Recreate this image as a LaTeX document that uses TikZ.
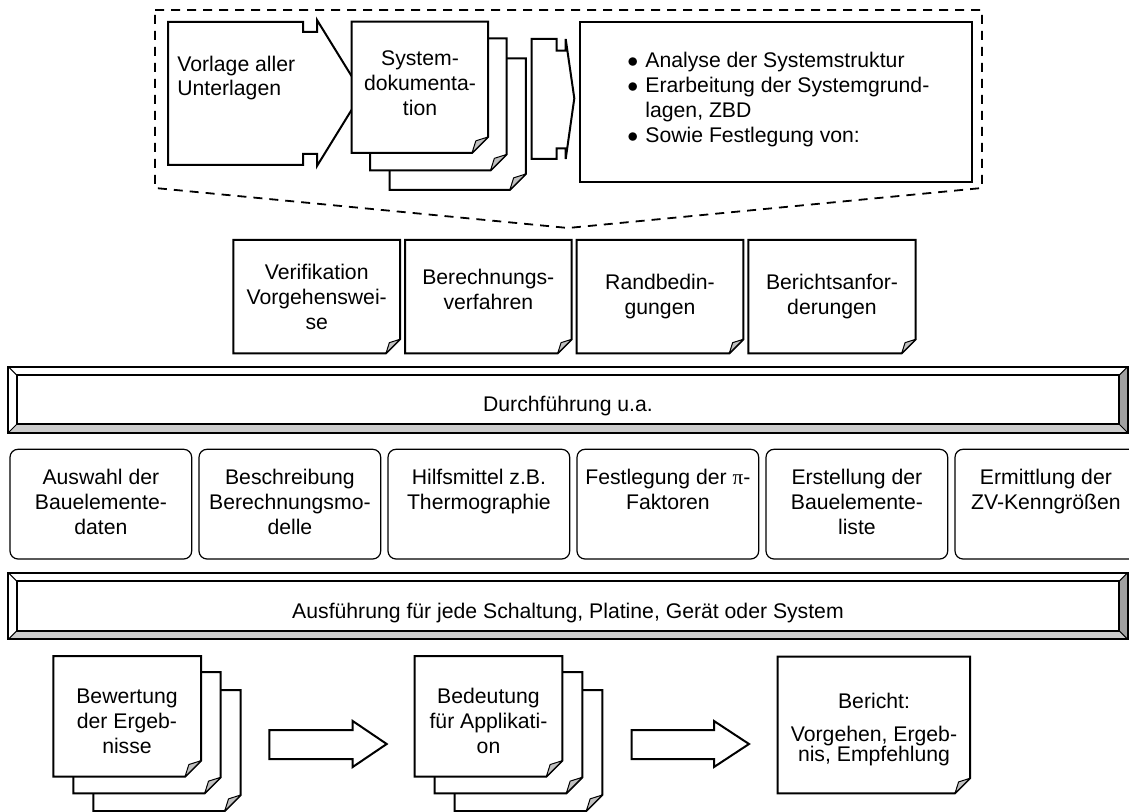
\documentclass[tikz,border=0pt]{standalone}
\usepackage{fontspec}
\setmainfont{Liberation Sans}
\newfontfamily\symbolserif{Liberation Serif}
\definecolor{earGray}{HTML}{C0C0C0}
\definecolor{bevelLight}{HTML}{CCCCCC}
\definecolor{bevelDark}{HTML}{A0A0A0}

% sheet of paper with a folded bottom-right corner: x1 y1 x2 y2 ear
\newcommand\docpage[5]{%
  \filldraw[outl, fill=white] (#1,#2) -- (#3,#2) -- (#3,#4-#5) -- (#3-#5,#4) -- (#1,#4) -- cycle;
  \filldraw[foldline] (#3-#5,#4) -- (#3,#4-#5) -- ({#3-0.76*#5},{#4-0.76*#5}) -- cycle;
}
% raised bar with bevelled frame: x1 y1 x2 y2 bevel
\newcommand\bevelbar[5]{%
  \fill[white] (#1,#2) rectangle (#3,#4);
  \fill[bevelLight] (#1,#4) -- (#3,#4) -- (#3-#5,#4-#5) -- (#1+#5,#4-#5) -- cycle;
  \fill[bevelDark] (#3,#2) -- (#3,#4) -- (#3-#5,#4-#5) -- (#3-#5,#2+#5) -- cycle;
  \draw[outl] (#1,#2) rectangle (#3,#4);
  \draw[outl] (#1+#5,#2+#5) rectangle (#3-#5,#4-#5);
  \draw[hairline] (#1,#2) -- (#1+#5,#2+#5) (#3,#2) -- (#3-#5,#2+#5)
                  (#1,#4) -- (#1+#5,#4-#5) (#3,#4) -- (#3-#5,#4-#5);
}
\newcommand\itembullet{\makebox[9pt][l]{$\bullet$}}

\begin{document}
\begin{tikzpicture}[x=0.5pt,y=-0.5pt,
  txt/.style={font=\fontsize{10.6}{12.5}\selectfont, align=center, inner sep=0pt},
  outl/.style={draw=black, line width=1pt, line join=miter},
  hairline/.style={draw=black, line width=0.5pt},
  foldline/.style={draw=black, line width=0.5pt, fill=earGray, line join=round},
  softbox/.style={draw=black, line width=0.6pt, rounded corners=4pt, fill=white},
  dashedoutline/.style={draw=black, line width=0.9pt, dash pattern=on 4.5pt off 3.5pt},
  bigarrow/.style={outl, fill=white},
]
\useasboundingbox (0,0) rectangle (1129,812);

% ---------- preparation group ----------
\draw[dashedoutline] (155,10) -- (982,10) -- (982,188) -- (568,228) -- (155,188) -- cycle;

% notched arrow holding the submitted documents
\draw[bigarrow] (168,22) -- (303,22) -- (303,32) -- (317,32) -- (317,20) -- (362,93)
  -- (317,166) -- (317,154) -- (303,154) -- (303,165) -- (168,165) -- cycle;
\node[txt, align=left, anchor=west, font=\fontsize{10.6}{11.7}\selectfont] (vorlage) at (177,78) {Vorlage aller\\Unterlagen};

% stack of system documents
\docpage{389.5}{58.5}{525.8}{190}{16}
\docpage{370.2}{38.5}{506.5}{170.5}{16}
\docpage{351.7}{21.7}{488}{153}{16}
\node[txt] (sysdoc) at (420,83) {System-\\dokumenta-\\tion};

% small notched arrow
\draw[bigarrow] (531.7,39) -- (556.7,39) -- (556.7,50.7) -- (565.7,50.7) -- (565.7,39)
  -- (574.3,98.3) -- (565.7,159) -- (565.7,148.3) -- (556.7,148.3) -- (556.7,159) -- (531.7,159) -- cycle;

% analysis tasks
\draw[outl, fill=white] (580,21.7) rectangle (972.3,181.7);
\node[txt, align=left, anchor=north west] (tasks) at (627,51.5)
  {\itembullet Analyse der Systemstruktur\\
   \itembullet Erarbeitung der Systemgrund-\\
   \hspace*{9pt}lagen, ZBD\\
   \itembullet Sowie Festlegung von:};

% ---------- specifications ----------
\docpage{233.3}{240}{400}{353.3}{14}
\node[txt] (verif) at (316.7,297) {Verifikation\\Vorgehenswei-\\se};
\docpage{405}{240}{571.7}{353.3}{14}
\node[txt] (berech) at (488.3,289) {Berechnungs-\\verfahren};
\docpage{576.7}{240}{743.3}{353.3}{14}
\node[txt] (rand) at (660,297) {Randbedin-\\gungen};
\docpage{748.3}{240}{915.7}{353.3}{14}
\node[txt] (bericht-anf) at (832,297) {Berichtsanfor-\\derungen};

% ---------- execution bar ----------
\bevelbar{8.3}{366.7}{1127.7}{432.7}{8.6}
\node[txt, anchor=base] (durch) at (568,412) {Durchführung u.a.};

% ---------- activities ----------
\draw[softbox] (10,449.3) rectangle (191.7,559);
\node[txt, anchor=north] (auswahl) at (100.9,468.5) {Auswahl der\\Bauelemente-\\daten};
\draw[softbox] (199,449.3) rectangle (380.7,559);
\node[txt, anchor=north] (beschr) at (289.9,468.5) {Beschreibung\\Berechnungsmo-\\delle};
\draw[softbox] (388,449.3) rectangle (569.7,559);
\node[txt, anchor=north] (hilfs) at (478.9,468.5) {Hilfsmittel z.B.\\Thermographie};
\draw[softbox] (577,449.3) rectangle (758.7,559);
\node[txt, anchor=north] (pifak) at (667.9,468.5) {Festlegung der {\symbolserif π}-\\Faktoren};
\draw[softbox] (766,449.3) rectangle (947.7,559);
\node[txt, anchor=north] (liste) at (856.9,468.5) {Erstellung der\\Bauelemente-\\liste};
\draw[softbox] (955,449.3) rectangle (1136.7,559);
\node[txt, anchor=north] (zv) at (1045.9,468.5) {Ermittlung der\\ZV-Kenngrößen};

% ---------- per-unit bar ----------
\bevelbar{8.3}{572.7}{1127.7}{639.3}{8.6}
\node[txt, anchor=base] (ausf) at (568,618) {Ausführung für jede Schaltung, Platine, Gerät oder System};

% ---------- results ----------
\docpage{93.3}{690}{240.7}{811}{16}
\docpage{73.3}{672}{220.7}{793.3}{16}
\docpage{53.3}{656}{201}{776.7}{16}
\node[txt] (bewert) at (127,721) {Bewertung\\der Ergeb-\\nisse};

\draw[bigarrow] (269.3,730) -- (352.7,730) -- (352.7,721) -- (386.7,744) -- (352.7,767)
  -- (352.7,759) -- (269.3,759) -- cycle;

\docpage{454.6}{690}{602.3}{811}{16}
\docpage{434.6}{672}{582.3}{793.3}{16}
\docpage{414.6}{656}{562.3}{776.7}{16}
\node[txt] (bedeut) at (488.5,721) {Bedeutung\\für Applikati-\\on};

\draw[bigarrow] (631.7,730) -- (714,730) -- (714,721) -- (749,744) -- (714,767)
  -- (714,759) -- (631.7,759) -- cycle;

\docpage{777.7}{656.7}{970}{793.3}{15}
\node[txt, anchor=north, font=\fontsize{10.6}{10}\selectfont] (berichtbox) at (874,692.5) {Bericht:\\[6.5pt]Vorgehen, Ergeb-\\nis, Empfehlung};
\end{tikzpicture}
\end{document}
